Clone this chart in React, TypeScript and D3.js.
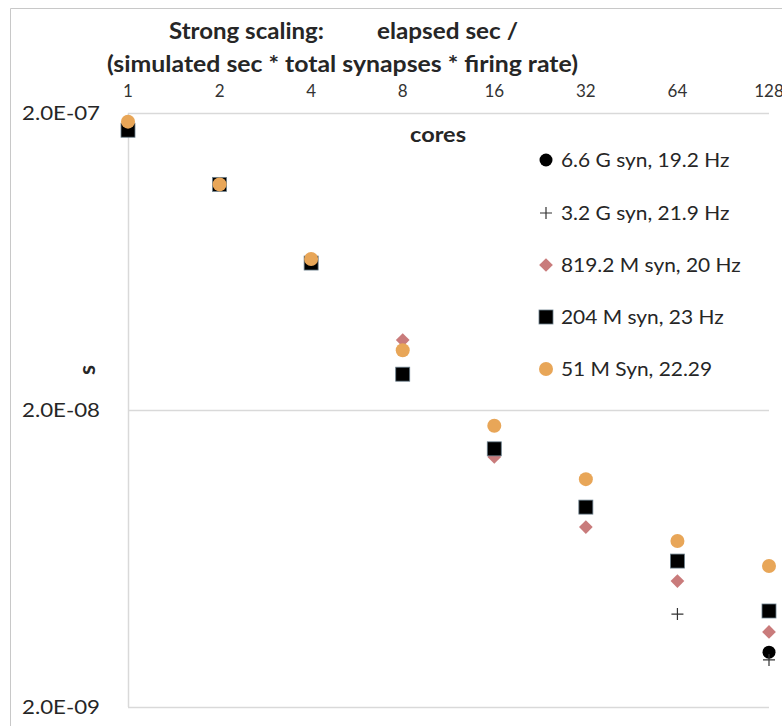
import React, { useRef, useEffect } from 'react';
import * as d3 from 'd3';

const cores = [1, 2, 4, 8, 16, 32, 64, 128];
const yTicks = [2e-7, 2e-8, 2e-9];

const seriesNames = [
  '6.6 G syn, 19.2 Hz',
  '3.2 G syn, 21.9 Hz',
  '819.2 M syn, 20 Hz',
  '204 M syn, 23 Hz',
  '51 M Syn, 22.29',
];

// [cores, seconds]
const syn66G: [number, number][] = [[128, 3.06e-9]];
const syn32G: [number, number][] = [[64, 4.11e-9], [128, 2.88e-9]];
const syn819M: [number, number][] = [
  [8, 3.44e-8], [16, 1.39e-8], [32, 8.07e-9], [64, 5.31e-9], [128, 3.58e-9],
];
const syn204M: [number, number][] = [
  [1, 1.75e-7], [2, 1.15e-7], [4, 6.25e-8], [8, 2.64e-8], [16, 1.48e-8],
  [32, 9.42e-9], [64, 6.2e-9], [128, 4.21e-9],
];
const syn51M: [number, number][] = [
  [1, 1.87e-7], [2, 1.15e-7], [4, 6.45e-8], [8, 3.18e-8], [16, 1.77e-8],
  [32, 1.17e-8], [64, 7.24e-9], [128, 5.97e-9],
];

const FONT = 'Lato, "Open Sans", sans-serif';

export default function App() {
  const svgRef = useRef<SVGSVGElement>(null);

  useEffect(() => {
    if (!svgRef.current) return;
    const svg = d3.select(svgRef.current);
    svg.selectAll('*').remove();

    const left = 128, right = 769, top = 113, bottom = 707;

    const x = d3.scaleLog().base(2).domain([1, 128]).range([left, right]);
    const y = d3.scaleLog().domain([2e-9, 2e-7]).range([bottom, top]);

    // outer frame
    svg.append('path')
      .attr('d', `M10.5,726 V8.5 H782`)
      .attr('fill', 'none')
      .attr('stroke', '#c8c8c8')
      .attr('stroke-width', 1);

    // grid
    svg.append('g')
      .selectAll('line')
      .data(yTicks)
      .join('line')
      .attr('x1', left)
      .attr('x2', right)
      .attr('y1', d => Math.round(y(d)) + 0.5)
      .attr('y2', d => Math.round(y(d)) + 0.5)
      .attr('stroke', '#d9d9d9')
      .attr('stroke-width', 1.5);

    svg.append('line')
      .attr('x1', left + 0.5).attr('x2', left + 0.5)
      .attr('y1', top).attr('y2', bottom)
      .attr('stroke', '#d9d9d9')
      .attr('stroke-width', 1.5);

    // y tick labels
    svg.append('g')
      .selectAll('text')
      .data(yTicks)
      .join('text')
      .attr('x', 100)
      .attr('y', d => y(d) + 7)
      .attr('text-anchor', 'end')
      .attr('font-family', FONT)
      .attr('font-size', 20)
      .attr('textLength', 78)
      .attr('lengthAdjust', 'spacingAndGlyphs')
      .attr('fill', '#262626')
      .text(d => d.toExponential(1).toUpperCase().replace(/E([+-])(\d)$/, 'E$10$2'));

    // x tick labels (top)
    svg.append('g')
      .selectAll('text')
      .data(cores)
      .join('text')
      .attr('x', d => x(d))
      .attr('y', 97)
      .attr('text-anchor', 'middle')
      .attr('font-family', FONT)
      .attr('font-size', 17)
      .attr('fill', '#333')
      .text(d => String(d));

    // titles
    const title = svg.append('g')
      .attr('font-family', FONT)
      .attr('font-weight', 'bold')
      .attr('font-size', 22)
      .attr('fill', '#262626')
      .attr('lengthAdjust', 'spacingAndGlyphs');
    title.append('text').attr('x', 169).attr('y', 39)
      .attr('textLength', 155).attr('lengthAdjust', 'spacingAndGlyphs')
      .text('Strong scaling:');
    title.append('text').attr('x', 377).attr('y', 39)
      .attr('textLength', 141).attr('lengthAdjust', 'spacingAndGlyphs')
      .text('elapsed sec /');
    title.append('text')
      .attr('x', 107).attr('y', 72)
      .attr('textLength', 471).attr('lengthAdjust', 'spacingAndGlyphs')
      .text('(simulated sec * total synapses * firing rate)');

    svg.append('text')
      .attr('x', 410).attr('y', 142)
      .attr('textLength', 56).attr('lengthAdjust', 'spacingAndGlyphs')
      .attr('font-family', FONT)
      .attr('font-weight', 'bold')
      .attr('font-size', 21)
      .attr('fill', '#262626')
      .text('cores');

    svg.append('text')
      .attr('transform', 'translate(95,370) rotate(-90)')
      .attr('text-anchor', 'middle')
      .attr('font-family', FONT)
      .attr('font-weight', 'bold')
      .attr('font-size', 23)
      .attr('fill', '#262626')
      .text('s');

    // markers
    const drawMarker = (g: d3.Selection<SVGGElement, unknown, null, undefined>, kind: number, cx: number, cy: number) => {
      if (kind === 0) {
        g.append('circle').attr('cx', cx).attr('cy', cy).attr('r', 6.5).attr('fill', '#000');
      } else if (kind === 1) {
        g.append('path')
          .attr('d', `M${cx - 6},${cy} H${cx + 6} M${cx},${cy - 6} V${cy + 6}`)
          .attr('stroke', '#333')
          .attr('stroke-width', 1.2);
      } else if (kind === 2) {
        g.append('path')
          .attr('d', d3.symbol(d3.symbolDiamond2, 120)() as string)
          .attr('transform', `translate(${cx},${cy})`)
          .attr('fill', '#c97b7b');
      } else if (kind === 3) {
        g.append('rect')
          .attr('x', cx - 7).attr('y', cy - 7)
          .attr('width', 14).attr('height', 14)
          .attr('fill', '#000')
          .attr('stroke', '#6b7f8c')
          .attr('stroke-width', 0.8);
      } else {
        g.append('circle').attr('cx', cx).attr('cy', cy).attr('r', 7).attr('fill', '#e8a658');
      }
    };

    const allSeries = [syn66G, syn32G, syn819M, syn204M, syn51M];
    const pts = svg.append('g');
    allSeries.forEach((s, i) => {
      s.forEach(([c, v]) => drawMarker(pts, i, x(c), y(v)));
    });

    // legend
    const legend = svg.append('g');
    const rowY = [160, 213, 265, 317, 369];
    seriesNames.forEach((name, i) => {
      drawMarker(legend, i, 546, rowY[i]);
      const t = legend.append('text')
        .attr('x', 561)
        .attr('y', rowY[i] + 7)
        .attr('font-family', FONT)
        .attr('font-size', 19)
        .attr('fill', '#262626')
        .text(name);
      const w = (t.node() as SVGTextElement).getComputedTextLength();
      t.attr('textLength', w * 1.1).attr('lengthAdjust', 'spacingAndGlyphs');
    });
  }, []);

  return (
    <div style={{ position: 'absolute', left: 0, top: 0 }}>
      <svg ref={svgRef} width={782} height={726} style={{ display: 'block', background: '#fff' }} />
    </div>
  );
}
